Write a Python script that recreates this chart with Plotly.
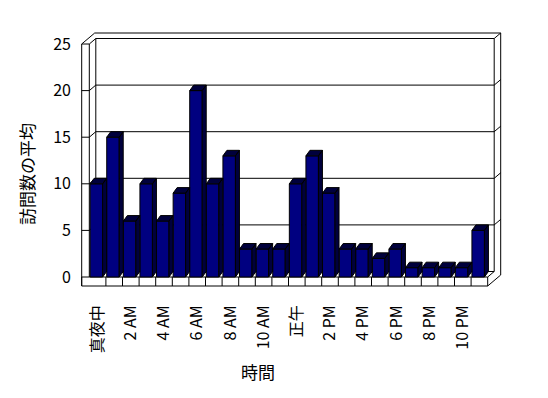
import plotly.graph_objects as go

# ---- data ----
hours = ["真夜中", "1 AM", "2 AM", "3 AM", "4 AM", "5 AM", "6 AM", "7 AM", "8 AM", "9 AM",
         "10 AM", "11 AM", "正午", "1 PM", "2 PM", "3 PM", "4 PM", "5 PM", "6 PM", "7 PM",
         "8 PM", "9 PM", "10 PM", "11 PM"]
visits = [10, 15, 6, 10, 6, 9, 20, 10, 13, 3, 3, 3, 10, 13, 9, 3, 3, 2, 3, 1, 1, 1, 1, 5]
y_ticks = [0, 5, 10, 15, 20, 25]
x_title = "時間"
y_title = "訪問数の平均"

# ---- layout geometry (pixels, page coordinates; page body has an 8px margin) ----
OFF = 8
W, H = 548, 398
L, R, T, B = 72 - OFF, 505 - OFF, 28 - OFF, 290 - OFF
X0, Y0 = 89.3 - OFF, 277.0 - OFF   # front plane: left edge of first category, value 0
PXC, PXU = 16.6, 9.32              # px per category, px per value unit
n = len(hours)
xr0 = -0.5 - (X0 - L) / PXC
xr1 = xr0 + (R - L) / PXC
yr0 = -(B - Y0) / PXU
yr1 = yr0 + (B - T) / PXU
ymax = y_ticks[-1]

def X(c, dpx=0.0):
    return c + dpx / PXC

def Y(v, dpx=0.0):
    return v + dpx / PXU

WT, FT = 7.6, 9.0             # left wall / floor thickness (px)
D1 = (6.5, 5.5)               # back wall plane depth
D2 = (13.0, 11.0)             # outer back edge depth
DB = (4.0, 5.5)               # bar depth
BW, BOFF = 0.753, -0.45       # bar width and offset (category units)

cl, cr = -0.5, n - 0.5
FRONT = "#000080"
DARK = "#00003c"

shapes = []
def line(x0, y0, x1, y1):
    shapes.append(dict(type="line", xref="x", yref="y", x0=x0, y0=y0, x1=x1, y1=y1,
                       line=dict(color="black", width=1), layer="below"))

# floor front face
shapes.append(dict(type="rect", xref="x", yref="y", x0=X(cl, -WT), y0=Y(0, -FT), x1=X(cr), y1=Y(0),
                   line=dict(color="black", width=1), fillcolor="white", layer="below"))
for k in range(n - 1):
    line(k + 0.5, Y(0, -FT), k + 0.5, Y(0))
# left wall front
line(X(cl, -WT), Y(0, -FT), X(cl, -WT), Y(ymax))
line(X(cl), Y(0), X(cl), Y(ymax))
line(X(cl, -WT), Y(ymax), X(cl), Y(ymax))
# left wall top
line(X(cl, -WT), Y(ymax), X(cl, -WT + D2[0]), Y(ymax, D2[1]))
line(X(cl), Y(ymax), X(cl, D1[0]), Y(ymax, D1[1]))
# back wall
line(X(cl, D1[0]), Y(ymax, D1[1]), X(cr, D1[0]), Y(ymax, D1[1]))
line(X(cl, D1[0]), Y(ymax, D1[1]), X(cl, D1[0]), Y(0, D1[1]))
line(X(cr, D1[0]), Y(ymax, D1[1]), X(cr, D1[0]), Y(0, D1[1]))
line(X(cl, -WT + D2[0]), Y(ymax, D2[1]), X(cr, D2[0]), Y(ymax, D2[1]))
line(X(cr, D2[0]), Y(ymax, D2[1]), X(cr, D2[0]), Y(0, -FT + D2[1]))
line(X(cr, D1[0]), Y(ymax, D1[1]), X(cr, D2[0]), Y(ymax, D2[1]))
# floor back + right side
line(X(cl, D1[0]), Y(0, D1[1]), X(cr, D1[0]), Y(0, D1[1]))
line(X(cr), Y(0), X(cr, D1[0]), Y(0, D1[1]))
line(X(cr), Y(0, -FT), X(cr, D2[0]), Y(0, -FT + D2[1]))
# gridlines
for v in y_ticks[1:-1]:
    line(X(cl, D1[0]), Y(v, D1[1]), X(cr, D1[0]), Y(v, D1[1]))
    line(X(cl), Y(v), X(cl, D1[0]), Y(v, D1[1]))
    line(X(cl, -WT), Y(v), X(cl), Y(v))
    line(X(cr, D1[0]), Y(v, D1[1]), X(cr, D2[0]), Y(v, D2[1]))

# ---- bars ----
fig = go.Figure()
fig.add_trace(go.Bar(x=list(range(n)), y=visits, width=BW, offset=BOFF,
                     marker=dict(color=FRONT, line=dict(color="black", width=1)),
                     hoverinfo="skip"))

px_, py_ = [], []
for i, v in enumerate(visits):
    xl = i + BOFF
    xr = xl + BW
    # side face
    px_ += [xr, xr, X(xr, DB[0]), X(xr, DB[0]), xr, None]
    py_ += [0, v, Y(v, DB[1]), Y(0, DB[1]), 0, None]
    # top face
    px_ += [xl, xr, X(xr, DB[0]), X(xl, DB[0]), xl, None]
    py_ += [v, v, Y(v, DB[1]), Y(v, DB[1]), v, None]
fig.add_trace(go.Scatter(x=px_, y=py_, mode="lines", fill="toself", fillcolor=DARK,
                         line=dict(color="black", width=1), hoverinfo="skip"))

font = "Noto Sans CJK JP"
fig.update_layout(
    width=W, height=H, margin=dict(l=L, r=W - R, t=T, b=H - B),
    paper_bgcolor="white", plot_bgcolor="white", showlegend=False,
    shapes=shapes, font=dict(family=font, color="black", size=16),
    xaxis=dict(range=[xr0, xr1], tickvals=list(range(0, n, 2)), ticktext=hours[::2],
               tickangle=-90, showgrid=False, zeroline=False, showline=False, ticks="",
               tickfont=dict(family=font, size=16), ticklabelstandoff=11),
    yaxis=dict(range=[yr0, yr1], tickvals=y_ticks, showgrid=False, zeroline=False,
               showline=False, ticks="", tickfont=dict(family=font, size=16)),
    annotations=[
        dict(text=x_title, xref="paper", yref="paper", x=(258 - OFF - L) / (R - L),
             y=(B - (371 - OFF)) / (B - T), xanchor="center", yanchor="middle",
             showarrow=False, font=dict(size=17)),
        dict(text=y_title, xref="paper", yref="paper", x=(27 - OFF - L) / (R - L),
             y=(B - (174 - OFF)) / (B - T), xanchor="center", yanchor="middle",
             showarrow=False, textangle=-90, font=dict(size=17)),
    ],
)
fig.write_html("out.html")
